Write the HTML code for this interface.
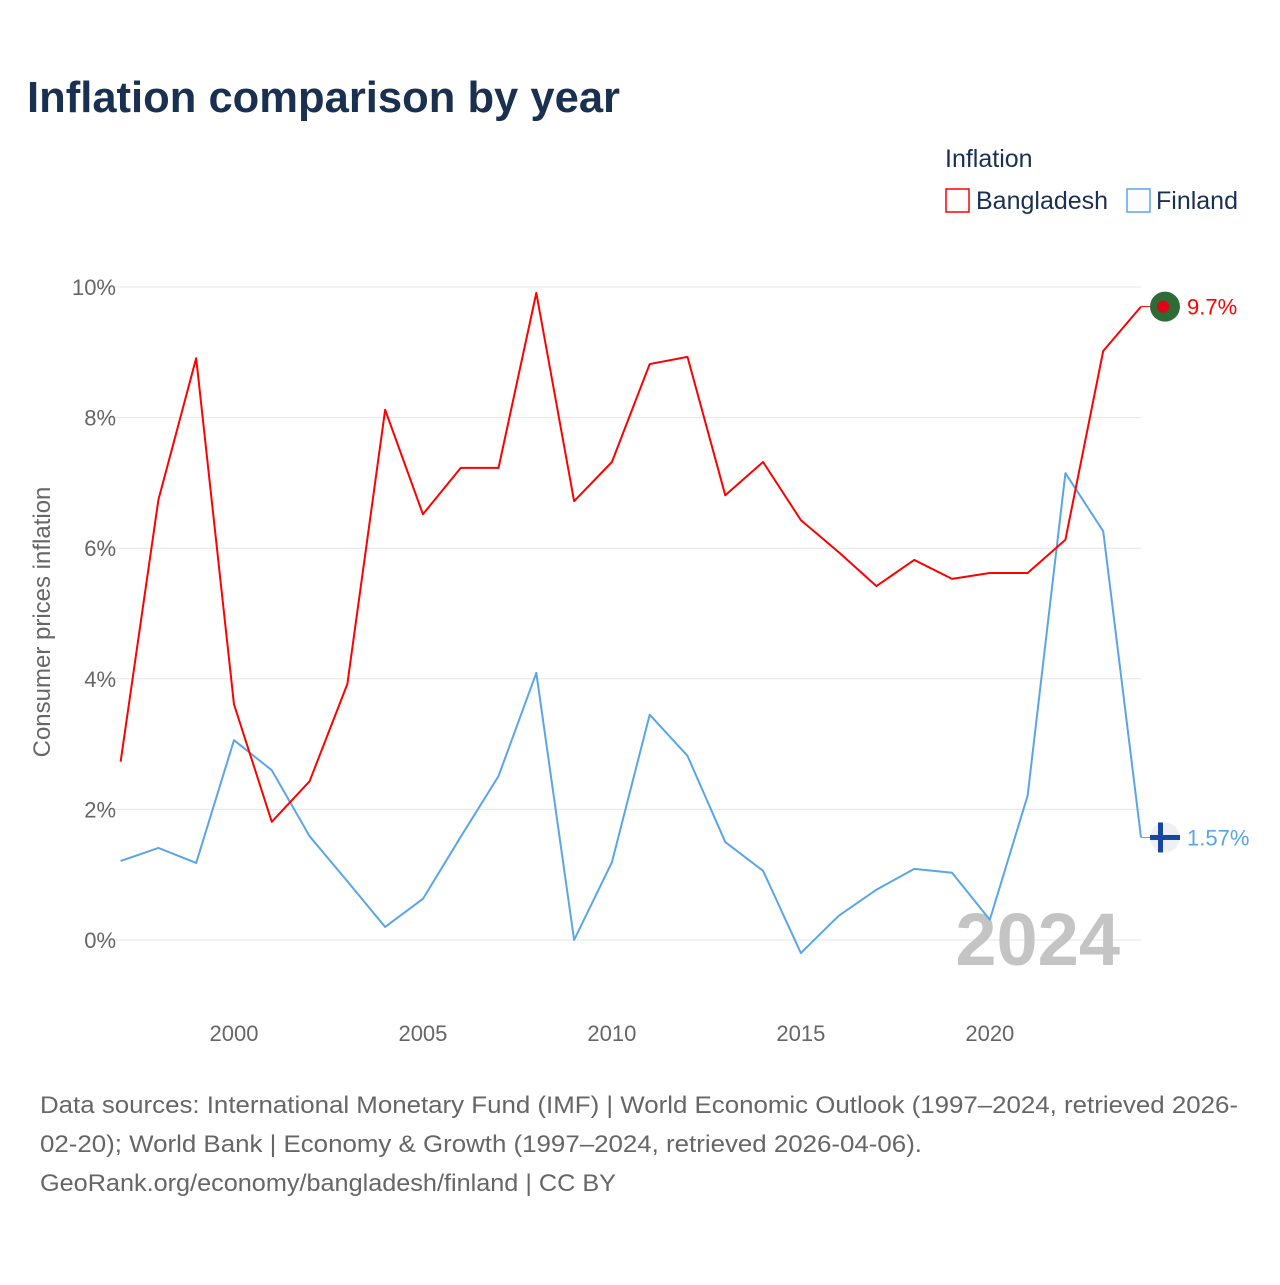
<!DOCTYPE html>
<html><head><meta charset="utf-8"><style>
html,body{margin:0;padding:0;background:#fff;}
body{width:1280px;height:1280px;overflow:hidden;font-family:"Liberation Sans",sans-serif;}
</style></head><body>
<svg id="chart" width="1280" height="1280" viewBox="0 0 1280 1280" xmlns="http://www.w3.org/2000/svg">
<text x="27" y="112" font-size="44" font-weight="bold" fill="#1a3050" textLength="593" lengthAdjust="spacingAndGlyphs">Inflation comparison by year</text>
<text x="945" y="167" font-size="25" fill="#1a3050">Inflation</text>
<g>
<rect x="946" y="189" width="23" height="23" fill="none" stroke="#ff0000" stroke-width="1.5"/>
<text x="976" y="209" font-size="25" fill="#1a3050">Bangladesh</text></g>
<g>
<rect x="1127" y="189" width="23" height="23" fill="none" stroke="#5aa5e8" stroke-width="1.5"/>
<text x="1156" y="209" font-size="25" fill="#1a3050">Finland</text></g>
<text transform="translate(50,622) rotate(-90)" text-anchor="middle" font-size="24" fill="#666">Consumer prices inflation</text>
<g id="grid"></g><g id="yticks"></g><g id="xticks"></g>
<text x="1120" y="965" text-anchor="end" font-size="74" font-weight="bold" fill="#c4c4c4">2024</text>
<g id="series"></g>
<g font-size="24" fill="#666">
<text x="40" y="1113" textLength="1198" lengthAdjust="spacingAndGlyphs">Data sources: International Monetary Fund (IMF) | World Economic Outlook (1997–2024, retrieved 2026-</text>
<text x="40" y="1152" textLength="882" lengthAdjust="spacingAndGlyphs">02-20); World Bank | Economy &amp; Growth (1997–2024, retrieved 2026-04-06).</text>
<text x="40" y="1191" textLength="576" lengthAdjust="spacingAndGlyphs">GeoRank.org/economy/bangladesh/finland | CC BY</text>
</g>
</svg>
<script>
const years=[1997,1998,1999,2000,2001,2002,2003,2004,2005,2006,2007,2008,2009,2010,2011,2012,2013,2014,2015,2016,2017,2018,2019,2020,2021,2022,2023,2024];
const bangladesh=[2.73,6.74,8.91,3.61,1.81,2.43,3.92,8.12,6.52,7.23,7.23,9.91,6.72,7.32,8.82,8.93,6.81,7.32,6.43,5.94,5.42,5.82,5.53,5.62,5.62,6.13,9.02,9.7];
const finland=[1.21,1.41,1.18,3.06,2.60,1.59,0.90,0.20,0.63,1.58,2.51,4.09,0.0,1.19,3.45,2.82,1.50,1.06,-0.20,0.37,0.77,1.09,1.03,0.31,2.21,7.15,6.26,1.57];
const yTicks=[0,2,4,6,8,10];
const xTicks=[2000,2005,2010,2015,2020];
const NS="http://www.w3.org/2000/svg";
const x=v=>120.6+(v-1997)*(1141-120.6)/27;
const y=v=>940-v*65.3;
function mk(tag,attrs,parent){const e=document.createElementNS(NS,tag);for(const k in attrs)e.setAttribute(k,attrs[k]);parent.appendChild(e);return e;}
const grid=document.getElementById('grid'),yt=document.getElementById('yticks'),xt=document.getElementById('xticks'),ser=document.getElementById('series');
yTicks.forEach(t=>{
 const l=mk('line',{x1:100,x2:1141,y1:y(t),y2:y(t),stroke:'#e6e6e6','stroke-width':1},grid);
 
 
 const tx=mk('text',{x:116,y:y(t)+8,'text-anchor':'end','font-size':22,fill:'#666'},yt);
 tx.textContent=t+'%';
 
 
});
xTicks.forEach(t=>{
 const tx=mk('text',{x:x(t),y:1041,'text-anchor':'middle','font-size':22,fill:'#666'},xt);
 tx.textContent=t;
 
 
});
function draw(vals,color,name,label){
 const p=mk('polyline',{points:vals.map((v,i)=>x(years[i])+','+y(v)).join(' '),fill:'none',stroke:color,'stroke-width':2,'stroke-linejoin':'round'},ser);
 
 
 const last=vals[vals.length-1],ly=y(last),lx=x(years[years.length-1]);
 const d=mk('line',{x1:lx,x2:lx+10,y1:ly,y2:ly,stroke:color,'stroke-width':1},ser);
 
 
 const g=mk('g',{},ser);
 
 
 if(name==='bangladesh'){
  mk('circle',{cx:1165,cy:ly,r:15,fill:'#2e6b35'},g);
  mk('circle',{cx:1163,cy:ly,r:6,fill:'#e3001b'},g);
 }else{
  mk('circle',{cx:1165,cy:ly,r:15,fill:'#eef0f4'},g);
  mk('rect',{x:1150,y:ly-2.5,width:30,height:5,fill:'#1546a0'},g);
  mk('rect',{x:1158,y:ly-15,width:5,height:30,fill:'#1546a0'},g);
 }
 const t=mk('text',{x:1187,y:ly+8,'font-size':22,fill:color},ser);
 t.textContent=label;
 
 
}
draw(finland,'#5aa5e8','finland','1.57%');
draw(bangladesh,'#ff0000','bangladesh','9.7%');
</script>
</body></html>
